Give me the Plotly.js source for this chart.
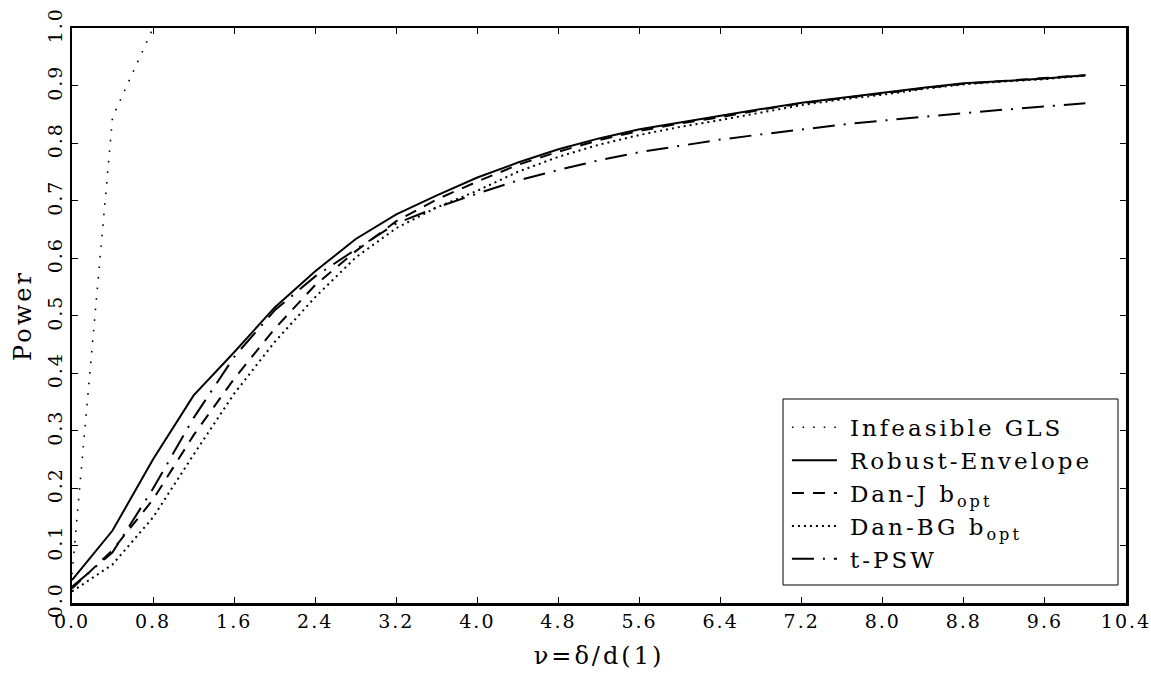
<!DOCTYPE html>
<html>
<head>
<meta charset="utf-8">
<script src="https://cdn.plot.ly/plotly-3.0.1.min.js"></script>
<style>
  html, body { margin: 0; padding: 0; background: #fff; }
  #chart { width: 1151px; height: 676px; }
  .legendtext { letter-spacing: 3px; }
  .xtitle, .ytitle { letter-spacing: 3px; }
  .xtick text, .ytick text { letter-spacing: 2px; }
</style>
</head>
<body>
<div id="chart"></div>
<script>
// x grid (nu = delta / d(1))
const nu = [0.0, 0.4, 0.8, 1.2, 1.6, 2.0, 2.4, 2.8, 3.2, 3.6, 4.0, 4.4, 4.8, 5.2,
            5.6, 6.0, 6.4, 6.8, 7.2, 7.6, 8.0, 8.4, 8.8, 9.2, 9.6, 10.0];

const glsNu    = [0.0, 0.4, 0.8];
const glsPower = [0.05, 0.845, 1.0];

const robustEnvelope = [0.040, 0.126, 0.250, 0.361, 0.436, 0.514, 0.577, 0.633, 0.676, 0.709,
                        0.740, 0.766, 0.789, 0.808, 0.824, 0.836, 0.847, 0.859, 0.870, 0.879,
                        0.887, 0.896, 0.904, 0.908, 0.912, 0.918];

const danJ = [0.025, 0.092, 0.180, 0.292, 0.390, 0.477, 0.553, 0.612, 0.664, 0.702,
              0.733, 0.762, 0.785, 0.805, 0.821, 0.834, 0.845, 0.858, 0.869, 0.878,
              0.886, 0.895, 0.903, 0.908, 0.912, 0.918];

const danBG = [0.020, 0.067, 0.149, 0.258, 0.364, 0.454, 0.532, 0.601, 0.652, 0.688,
               0.717, 0.750, 0.776, 0.797, 0.814, 0.828, 0.840, 0.853, 0.866, 0.876,
               0.884, 0.894, 0.902, 0.907, 0.911, 0.917];

const tPSW = [0.028, 0.088, 0.199, 0.322, 0.428, 0.509, 0.568, 0.615, 0.660, 0.688,
              0.712, 0.735, 0.753, 0.770, 0.784, 0.795, 0.806, 0.815, 0.824, 0.832,
              0.839, 0.846, 0.852, 0.858, 0.863, 0.869];

const seriesNames = ['Infeasible GLS', 'Robust-Envelope', 'Dan-J b<sub>opt</sub>',
                     'Dan-BG b<sub>opt</sub>', 't-PSW'];

const xTicks = [0.0, 0.8, 1.6, 2.4, 3.2, 4.0, 4.8, 5.6, 6.4, 7.2, 8.0, 8.8, 9.6, 10.4];
const yTicks = [0.0, 0.1, 0.2, 0.3, 0.4, 0.5, 0.6, 0.7, 0.8, 0.9, 1.0];

const FONT = 'DejaVu Serif, Liberation Serif, serif';

const traces = [
  {x: glsNu, y: glsPower, name: seriesNames[0], mode: 'lines',
   line: {color: '#000', width: 1.6, dash: '1.6px,9px'}},
  {x: nu, y: robustEnvelope, name: seriesNames[1], mode: 'lines',
   line: {color: '#000', width: 2}},
  {x: nu, y: danJ, name: seriesNames[2], mode: 'lines',
   line: {color: '#000', width: 2, dash: '12px,9px'}},
  {x: nu, y: danBG, name: seriesNames[3], mode: 'lines',
   line: {color: '#000', width: 2, dash: '2px,4px'}},
  {x: nu, y: tPSW, name: seriesNames[4], mode: 'lines',
   line: {color: '#000', width: 2, dash: '22px,9px,2px,9px'}}
];

const layout = {
  width: 1151, height: 676,
  margin: {l: 72, r: 25, t: 28, b: 73},
  paper_bgcolor: '#fff', plot_bgcolor: '#fff',
  font: {family: FONT, color: '#000', size: 18},
  showlegend: true,
  legend: {
    x: 0.6745, y: 0.343, xanchor: 'left', yanchor: 'top',
    bgcolor: 'rgba(0,0,0,0)', borderwidth: 0,
    font: {family: FONT, size: 23, color: '#000'},
    itemwidth: 57, tracegroupgap: 0
  },
  shapes: [{
    type: 'rect', xref: 'paper', yref: 'paper',
    x0: 0.6746, x1: 0.9924, y0: 0.0313, y1: 0.3548,
    line: {color: '#000', width: 1}, fillcolor: '#fff', layer: 'above'
  }],
  xaxis: {
    range: [0, 10.40001], tickvals: xTicks, ticktext: xTicks.map(v => v.toFixed(1)),
    ticks: 'inside', ticklen: 6, tickwidth: 1, tickcolor: '#000',
    showline: true, linecolor: '#000', linewidth: 2.5, mirror: 'ticks',
    showgrid: false, zeroline: false, ticklabeloverflow: 'allow',
    tickfont: {family: FONT, size: 19},
    title: {text: 'ν=δ/d(1)', font: {family: FONT, size: 24}, standoff: 16}
  },
  yaxis: {
    range: [0, 1.0], tickvals: yTicks, ticktext: yTicks.map(v => v.toFixed(1)),
    ticks: 'inside', ticklen: 6, tickwidth: 1, tickcolor: '#000',
    showline: true, linecolor: '#000', linewidth: 2.5, mirror: 'ticks',
    showgrid: false, zeroline: false, tickangle: -90, ticklabeloverflow: 'allow',
    tickfont: {family: FONT, size: 19},
    title: {text: 'Power', font: {family: FONT, size: 24}, standoff: 6}
  }
};

Plotly.newPlot('chart', traces, layout, {displayModeBar: false, staticPlot: true}).then(gd => {
  // lengthen legend line samples to match the reference
  gd.querySelectorAll('.legend .legendlines path').forEach(p => p.setAttribute('d', 'M9,0h45'));
});
</script>
</body>
</html>
